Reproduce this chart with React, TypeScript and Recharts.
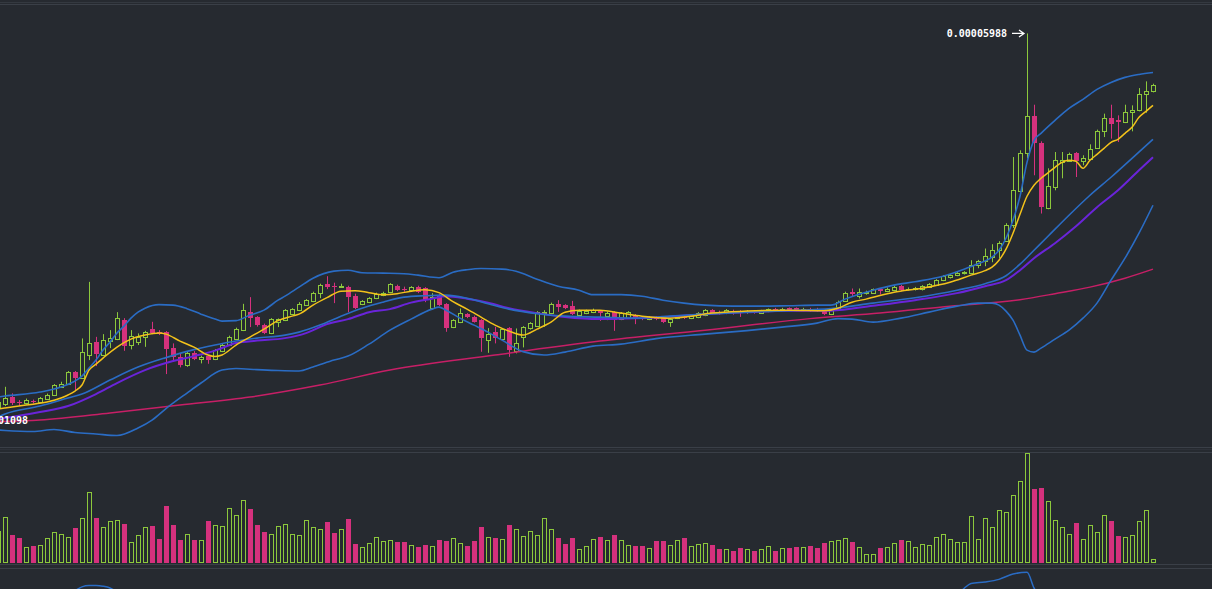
import React from 'react';
import { ComposedChart, Bar, Line, XAxis, YAxis, CartesianGrid, ReferenceDot } from 'recharts';

// Prices are in units of 1e-8 (satoshi). First candle has index -1 (partly cut off at the left edge).
const FIRST_INDEX = -1;

// [open, high, low, close]
const candles: number[][] = [
  [1313,1400,1288,1375],
  [1350,1566,1325,1425],[1434,1484,1338,1366],[1381,1400,1325,1363],[1359,1419,1344,1400],[1391,1406,1356,1371],
  [1379,1438,1363,1421],[1416,1481,1400,1466],[1463,1600,1450,1584],[1566,1629,1559,1600],[1600,1763,1588,1746],
  [1746,1763,1525,1679],[1679,2171,1663,2000],[1963,2879,1900,2116],[2125,2191,1825,1975],[1963,2225,1950,2150],
  [2141,2275,2050,2171],[2163,2500,2150,2421],[2400,2425,2016,2079],[2088,2275,2034,2200],[2121,2234,2088,2184],
  [2184,2266,2066,2246],[2288,2379,2225,2234],[2246,2275,2213,2225],[2246,2263,1725,2038],[2046,2109,1879,1941],
  [1941,1984,1809,1838],[1838,2004,1816,1991],[1991,2013,1900,1913],[1913,1956,1859,1941],[1950,1963,1854,1906],
  [1913,2038,1900,2025],[2013,2106,2000,2091],[2088,2206,2075,2188],[2166,2306,2150,2291],[2275,2604,2263,2525],
  [2500,2688,2313,2429],[2438,2450,2319,2334],[2341,2356,2225,2241],[2241,2425,2225,2413],[2375,2421,2313,2413],
  [2400,2538,2388,2525],[2481,2550,2469,2538],[2525,2625,2513,2606],[2594,2663,2581,2650],[2638,2756,2625,2744],
  [2741,2856,2675,2844],[2850,2950,2788,2813],[2831,2869,2613,2813],[2813,2856,2806,2825],[2819,2831,2500,2694],
  [2700,2731,2538,2556],[2600,2650,2588,2638],[2625,2688,2613,2675],[2675,2744,2663,2731],[2713,2756,2700,2744],
  [2750,2863,2738,2850],[2831,2844,2763,2775],[2794,2819,2756,2775],[2775,2825,2763,2813],[2813,2831,2738,2750],
  [2800,2813,2625,2650],[2546,2738,2531,2691],[2713,2725,2575,2588],[2600,2613,2254,2296],[2313,2413,2300,2400],
  [2375,2546,2363,2488],[2475,2488,2425,2438],[2441,2456,2369,2379],[2400,2413,2004,2179],[2150,2300,1991,2225],
  [2254,2316,2109,2179],[2159,2300,2144,2288],[2296,2313,1941,2025],[2016,2296,1984,2116],[2184,2325,2059,2313],
  [2296,2375,2281,2363],[2329,2513,2313,2500],[2484,2525,2316,2504],[2488,2619,2475,2606],[2600,2650,2504,2566],
  [2588,2600,2538,2554],[2575,2641,2463,2475],[2469,2531,2456,2519],[2488,2531,2475,2519],[2500,2544,2488,2531],
  [2513,2525,2391,2488],[2450,2506,2400,2491],[2500,2513,2266,2400],[2413,2500,2400,2488],[2429,2513,2416,2500],
  [2463,2475,2350,2409],[2425,2438,2400,2413],[2413,2450,2400,2438],[2438,2450,2400,2413],[2425,2438,2363,2379],
  [2379,2425,2316,2413],[2425,2456,2413,2438],[2441,2456,2413,2429],[2425,2463,2413,2450],[2438,2500,2425,2488],
  [2463,2538,2450,2525],[2525,2538,2475,2488],[2500,2519,2469,2484],[2488,2538,2475,2525],[2516,2531,2469,2484],
  [2513,2525,2441,2484],[2496,2525,2481,2513],[2504,2519,2481,2491],[2491,2529,2479,2516],[2513,2546,2500,2534],
  [2541,2554,2513,2525],[2525,2554,2513,2541],[2546,2559,2513,2525],[2546,2559,2513,2525],[2525,2554,2513,2541],
  [2541,2554,2504,2516],[2541,2554,2504,2516],[2516,2529,2463,2475],[2475,2550,2463,2538],[2544,2644,2531,2631],
  [2641,2756,2631,2744],[2750,2796,2691,2725],[2700,2796,2671,2750],[2734,2769,2719,2756],[2741,2796,2731,2784],
  [2784,2796,2721,2763],[2763,2809,2750,2796],[2775,2829,2763,2816],[2829,2841,2763,2775],[2784,2809,2771,2796],
  [2784,2816,2771,2804],[2784,2838,2771,2825],[2816,2863,2804,2850],[2846,2913,2834,2900],[2900,2963,2888,2950],
  [2934,2975,2921,2963],[2963,3009,2950,2996],[2984,3013,2971,3000],[2996,3150,2984,3096],[3096,3154,3050,3141],
  [3141,3296,3075,3200],[3191,3350,3125,3275],[3275,3388,3175,3371],[3394,3613,3381,3596],[3596,4441,3554,4025],
  [4013,4525,4000,4496],[4496,5988,4425,4950],[4950,5096,4213,4621],[4621,4638,3734,3816],[3804,4300,3788,4075],
  [4066,4504,4025,4400],[4379,4504,4175,4400],[4391,4496,4379,4484],[4491,4504,4191,4391],[4391,4463,4338,4429],
  [4421,4600,4409,4546],[4559,4784,4546,4771],[4766,4984,4691,4934],[4934,5096,4671,4859],[4909,4963,4629,4879],
  [4879,5096,4866,5004],[5004,5088,4763,5034],[5025,5304,5013,5234],[5234,5388,4996,5271],[5263,5359,5250,5346],
];

// volume per candle (same order as candles)
const volumes: number[] = [
  323,
  463,280,250,157,170,177,247,307,287,257,
  347,447,707,447,357,417,427,390,210,277,
  357,370,240,570,380,230,287,230,230,420,
  377,370,547,477,627,540,380,310,287,370,
  387,287,277,427,357,337,410,300,337,440,
  190,157,197,257,223,230,207,210,180,160,
  180,170,230,220,247,200,173,220,363,257,
  250,237,383,337,270,317,277,447,337,250,
  190,250,137,170,237,260,227,280,227,177,
  170,170,147,220,220,177,227,250,170,187,
  197,180,140,137,120,150,137,120,137,167,
  120,147,150,160,157,170,150,200,217,227,
  247,210,157,87,87,150,157,197,230,217,
  157,187,177,257,287,237,207,207,467,237,
  447,357,527,507,677,817,1097,737,747,617,
  427,357,287,397,237,377,307,477,420,267,
  257,277,417,527,37,
];

// indicator lines: [candle index, value]
const bbUpper: number[][] = [[-1,1438],[0,1450],[5,1500],[8,1563],[10,1638],[11,1700],[12,1800],[13,1900],[14,2025],[15,2125],[16,2238],[17,2325],[18,2425],[19,2500],[20,2550],[22,2594],[24,2588],[26,2544],[28,2475],[30,2413],[31,2388],[33,2394],[35,2463],[37,2525],[39,2650],[40,2700],[42,2813],[44,2925],[47,3013],[49,3025],[51,2994],[54,2988],[57,2981],[59,2963],[62,2931],[64,3000],[66,3031],[68,3046],[71,3038],[73,3013],[76,2913],[79,2825],[82,2775],[84,2719],[88,2719],[91,2700],[94,2650],[97,2613],[100,2588],[104,2575],[108,2575],[112,2581],[116,2588],[118,2588],[120,2663],[122,2725],[124,2775],[127,2838],[130,2881],[134,2950],[137,3038],[139,3106],[141,3188],[142,3275],[143,3425],[144,3650],[145,3950],[146,4375],[147,4650],[148,4738],[150,4900],[152,5050],[154,5163],[156,5288],[158,5375],[160,5438],[162,5475],[164,5500]];
const bbMiddle: number[][] = [[-1,1188],[0,1225],[5,1325],[9,1425],[11,1475],[15,1650],[19,1813],[23,1931],[27,2031],[30,2088],[33,2138],[36,2175],[40,2213],[42,2250],[45,2338],[48,2450],[51,2550],[54,2625],[57,2688],[60,2706],[63,2713],[66,2675],[69,2606],[72,2538],[76,2481],[80,2450],[85,2438],[90,2425],[95,2450],[100,2475],[106,2500],[112,2519],[118,2544],[124,2613],[130,2681],[136,2775],[140,2856],[143,2956],[145,3100],[147,3275],[149,3450],[152,3713],[155,3963],[158,4188],[161,4425],[164,4663]];
const bbLower: number[][] = [[-1,1025],[0,1019],[4,1006],[7,1031],[10,994],[13,975],[16,956],[19,1050],[21,1150],[23,1294],[26,1488],[28,1613],[31,1775],[33,1794],[36,1781],[39,1769],[42,1763],[44,1813],[47,1900],[49,1950],[52,2100],[55,2275],[58,2413],[61,2538],[62,2563],[63,2525],[65,2425],[67,2338],[69,2250],[71,2150],[74,2006],[77,1963],[80,2000],[84,2075],[88,2100],[93,2169],[100,2225],[106,2269],[111,2313],[116,2363],[119,2419],[121,2413],[124,2375],[128,2425],[132,2500],[136,2575],[139,2613],[141,2613],[142,2588],[143,2513],[144,2400],[145,2213],[146,2025],[147,2000],[148,2050],[150,2163],[152,2275],[154,2425],[156,2613],[158,2900],[160,3175],[162,3488],[164,3838]];
const ma7: number[][] = [[-1,1288],[0,1300],[3,1338],[6,1375],[8,1425],[9,1463],[10,1513],[11,1588],[12,1775],[13,1850],[14,1925],[16,2063],[18,2163],[20,2213],[22,2238],[23,2225],[25,2138],[27,2063],[29,1963],[30,1944],[31,1963],[33,2088],[35,2188],[37,2288],[39,2394],[41,2450],[42,2475],[44,2588],[46,2681],[48,2763],[50,2769],[52,2744],[54,2719],[56,2731],[58,2763],[60,2781],[62,2744],[64,2631],[66,2538],[68,2438],[70,2338],[72,2263],[74,2213],[76,2288],[78,2375],[80,2500],[82,2525],[85,2525],[88,2488],[91,2450],[95,2425],[98,2450],[101,2488],[106,2513],[112,2525],[117,2519],[119,2550],[121,2625],[123,2663],[127,2750],[131,2800],[135,2875],[138,2963],[140,3019],[141,3063],[142,3150],[143,3288],[144,3488],[145,3725],[146,3950],[147,4088],[148,4175],[149,4244],[150,4313],[151,4375],[152,4400],[153,4388],[154,4300],[155,4400],[156,4475],[157,4550],[158,4625],[159,4663],[160,4738],[161,4813],[162,4938],[163,5013],[164,5088]];
const ma25: number[][] = [[-1,1163],[0,1175],[5,1250],[9,1325],[13,1475],[16,1613],[20,1775],[24,1888],[27,1950],[30,2019],[33,2113],[36,2144],[40,2175],[43,2238],[46,2350],[49,2413],[52,2500],[55,2538],[58,2619],[61,2669],[63,2700],[66,2669],[69,2619],[72,2550],[76,2488],[80,2438],[85,2413],[90,2425],[95,2444],[100,2475],[106,2500],[112,2519],[118,2519],[124,2581],[130,2650],[136,2738],[140,2825],[143,2900],[145,3025],[147,3175],[150,3363],[153,3575],[156,3813],[159,4025],[162,4275],[164,4438]];
const ma99: number[][] = [[-1,1131],[5,1150],[15,1238],[25,1338],[35,1438],[45,1588],[55,1775],[70,1963],[85,2138],[100,2275],[115,2419],[125,2488],[135,2575],[145,2656],[150,2731],[155,2813],[160,2925],[164,3038]];
// lower oscillator panel (0..100)
const oscillator: number[][] = [[-1,68],[6,72],[9,80],[10,84],[11,87],[12,88],[13,88],[14,87.5],[15,86.2],[16,83],[18,76],[25,62],[40,58],[60,55],[80,50],[100,52],[120,62],[130,70],[135,77],[136,80.8],[137,85.8],[138,89.6],[140,90.8],[142,92.8],[144,96.9],[146,98.2],[147,86.2],[148,76.9],[152,68],[158,70],[164,72]];

const priceTicks = [1000,1500,2000,2500,3000,3500,4000,4500,5000,5500,6000];
const lowestLow = 1098; // low of a candle just left of the visible window

const BG = '#262a30';
const GRID = '#343940';
const BORDER = '#3a3f47';
const GREEN = '#8cc83c';
const RED = '#d5317d';
const BLUE = '#2a6cc4';
const YELLOW = '#f3c21a';
const PURPLE = '#6a24d9';
const PINK = '#c71f66';

const toMap = (pairs: number[][]) => new Map(pairs.map(([i, v]) => [i, v]));
const mUp = toMap(bbUpper), mMid = toMap(bbMiddle), mLow = toMap(bbLower);
const m7 = toMap(ma7), m25 = toMap(ma25), m99 = toMap(ma99), mOsc = toMap(oscillator);

const data = candles.map(([o, h, l, c], k) => {
  const i = k + FIRST_INDEX;
  return {
    i, o, h, l, c, range: [l, h], vol: volumes[k],
    bbUp: mUp.get(i) ?? null, bbMid: mMid.get(i) ?? null, bbLow: mLow.get(i) ?? null,
    ma7: m7.get(i) ?? null, ma25: m25.get(i) ?? null, ma99: m99.get(i) ?? null,
    osc: mOsc.get(i) ?? null,
  };
});

let maxIdx = 0;
data.forEach((d, k) => { if (d.h > data[maxIdx].h) maxIdx = k; });
const maxPoint = data[maxIdx];

const fmt = (v: number) => (v / 1e8).toFixed(8);
const X_DOMAIN: [number, number] = [-5 / 7, 1207 / 7];
const W = 1212;

function Candle(props: any) {
  const { x, y, width, height, payload } = props;
  if (x == null || payload == null) return null;
  const { o, h, l, c } = payload;
  const top = Math.min(y, y + height);
  const hh = Math.abs(height);
  const py = (v: number) => (h === l ? top : top + ((h - v) / (h - l)) * hh);
  const left = Math.round(x + width / 2 - 2.5);
  const cx = left + 2.5;
  const up = c >= o;
  const bt = Math.round(py(Math.max(o, c)));
  const bb = Math.round(py(Math.min(o, c)));
  const yH = py(h), yL = py(l);
  if (up) {
    const bh = bb - bt;
    return (
      <g>
        <line x1={cx} x2={cx} y1={yH} y2={bt} stroke={GREEN} strokeWidth={1} />
        <line x1={cx} x2={cx} y1={bb + 1} y2={yL} stroke={GREEN} strokeWidth={1} />
        {bh >= 2 ? (
          <rect x={left + 0.5} y={bt + 0.5} width={4} height={bh} fill={BG} stroke={GREEN} strokeWidth={1} />
        ) : (
          <rect x={left} y={bt} width={5} height={Math.max(1, bh + 1)} fill={GREEN} />
        )}
      </g>
    );
  }
  return (
    <g>
      <line x1={cx} x2={cx} y1={yH} y2={yL} stroke={RED} strokeWidth={1} />
      <rect x={left} y={bt} width={5} height={Math.max(1, bb - bt)} fill={RED} />
    </g>
  );
}

function VolBar(props: any) {
  const { x, y, width, height, payload } = props;
  if (x == null || payload == null) return null;
  const left = Math.round(x + width / 2 - 2.5);
  const t = Math.round(y);
  const b = Math.round(y + height);
  if (payload.c >= payload.o) {
    return <rect x={left + 0.5} y={t + 0.5} width={4} height={Math.max(0, b - t - 1)} fill="none" stroke={GREEN} strokeWidth={1} />;
  }
  return <rect x={left} y={t} width={5} height={Math.max(1, b - t)} fill={RED} />;
}

function MaxMarker(props: any) {
  const { cx, cy } = props;
  return (
    <g>
      <text x={cx - 20} y={cy + 4} textAnchor="end" fontFamily="'DejaVu Sans Mono', monospace" fontSize={10} fontWeight="bold" fill="#ffffff">
        {fmt(maxPoint.h)}
      </text>
      <path d={`M${cx - 15},${cy} L${cx - 3},${cy} M${cx - 8},${cy - 3.5} L${cx - 3},${cy} L${cx - 8},${cy + 3.5}`} stroke="#ffffff" strokeWidth={1.3} fill="none" />
    </g>
  );
}

function MinMarker(props: any) {
  const { cx, cy } = props;
  return (
    <text x={cx + 28} y={cy} textAnchor="end" fontFamily="'DejaVu Sans Mono', monospace" fontSize={10} fontWeight="bold" fill="#ffffff">
      {fmt(lowestLow)}
    </text>
  );
}

const lineCommon = { dot: false, connectNulls: true, type: 'monotone' as const, isAnimationActive: false, activeDot: false };

const hLine = (top: number) => (
  <div style={{ position: 'absolute', left: 0, top, width: W, height: 1, background: BORDER }} />
);

export default function App() {
  return (
    <div style={{ position: 'absolute', left: 0, top: 0, width: W, height: 589, background: BG, overflow: 'hidden' }}>
      {hLine(4)}
      <div style={{ position: 'absolute', left: 0, top: 0 }}>
        <ComposedChart width={W} height={450} data={data} margin={{ top: 2.5, right: 0, bottom: 0, left: 0 }}>
          <CartesianGrid vertical={false} stroke={GRID} />
          <XAxis dataKey="i" type="number" domain={X_DOMAIN} allowDataOverflow hide />
          <YAxis domain={[775, 6375]} ticks={priceTicks} allowDataOverflow width={0} tick={false} axisLine={false} tickLine={false} />
          <Bar dataKey="range" barSize={5} shape={(p: any) => <Candle {...p} />} isAnimationActive={false} />
          <Line dataKey="ma99" stroke={PINK} strokeWidth={1.5} {...lineCommon} />
          <Line dataKey="bbLow" stroke={BLUE} strokeWidth={1.6} {...lineCommon} />
          <Line dataKey="bbUp" stroke={BLUE} strokeWidth={1.6} {...lineCommon} />
          <Line dataKey="ma25" stroke={PURPLE} strokeWidth={2} {...lineCommon} />
          <Line dataKey="bbMid" stroke={BLUE} strokeWidth={1.6} {...lineCommon} />
          <Line dataKey="ma7" stroke={YELLOW} strokeWidth={1.5} {...lineCommon} />
          <ReferenceDot x={maxPoint.i} y={maxPoint.h} ifOverflow="visible" shape={(p: any) => <MaxMarker {...p} />} />
          <ReferenceDot x={X_DOMAIN[0]} y={lowestLow} ifOverflow="visible" shape={(p: any) => <MinMarker {...p} />} />
        </ComposedChart>
      </div>
      {hLine(447)}
      {hLine(452)}
      <div style={{ position: 'absolute', left: 0, top: 452 }}>
        <ComposedChart width={W} height={111} data={data} margin={{ top: 0, right: 0, bottom: 0, left: 0 }}>
          <XAxis dataKey="i" type="number" domain={X_DOMAIN} allowDataOverflow hide />
          <YAxis domain={[0, 1110]} allowDataOverflow hide />
          <Bar dataKey="vol" barSize={5} shape={(p: any) => <VolBar {...p} />} isAnimationActive={false} />
        </ComposedChart>
      </div>
      {hLine(564)}
      {hLine(568)}
      <div style={{ position: 'absolute', left: 0, top: 568 }}>
        <ComposedChart width={W} height={132} data={data} margin={{ top: 2, right: 0, bottom: 0, left: 0 }}>
          <XAxis dataKey="i" type="number" domain={X_DOMAIN} allowDataOverflow hide />
          <YAxis domain={[0, 100]} allowDataOverflow hide />
          <Line dataKey="osc" stroke={BLUE} strokeWidth={1.5} {...lineCommon} />
        </ComposedChart>
      </div>
    </div>
  );
}
